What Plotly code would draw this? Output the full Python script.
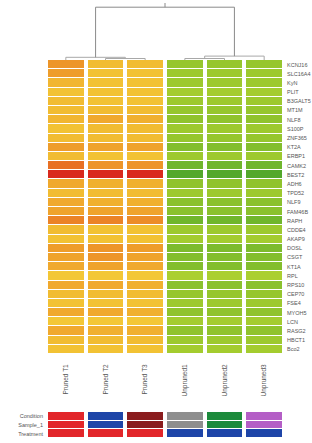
import plotly.graph_objects as go

# ---------------- data ----------------
genes = ["KCNJ16", "SLC16A4", "KyN", "PLIT", "B3GALT5", "MT1M", "NLF8", "S100P",
         "ZNF365", "KT2A", "ERBP1", "CAMK2", "BEST2", "ADH6", "TPD52", "NLF9",
         "FAM46B", "RAPH", "CDDE4", "AKAP9", "DOSL", "CSGT", "KT1A", "RPL",
         "RPS10", "CEP70", "FSE4", "MYOH5", "LCN", "RASG2", "HBCT1", "Bco2"]

samples = ["Pruned T1", "Pruned T2", "Pruned T3", "Unpruned1", "Unpruned2", "Unpruned3"]

s1 = [1.3, 1.2, 0.8, 0.6, 0.7, 0.7, 0.8, 0.6, 0.7, 1.2, 0.7, 1.7, 2.4, 1.0, 0.7, 1.0,
      1.1, 1.5, 0.7, 0.6, 1.2, 1.1, 1.0, 0.5, 1.0, 0.7, 0.6, 1.0, 0.5, 1.0, 0.7, 0.6]
s2 = [0.7, 0.6, 0.6, 0.6, 0.6, 0.7, 1.0, 0.7, 0.7, 1.1, 0.6, 1.3, 2.4, 0.9, 0.7, 0.9,
      1.1, 1.5, 0.6, 0.6, 1.3, 1.3, 1.1, 0.5, 1.0, 0.7, 0.6, 1.0, 0.5, 0.9, 0.7, 0.6]
s3 = [0.7, 0.6, 0.6, 0.6, 0.6, 0.7, 0.9, 0.7, 0.7, 1.1, 0.6, 1.3, 2.4, 0.9, 0.7, 0.9,
      1.1, 1.4, 0.6, 0.6, 1.2, 1.1, 1.0, 0.5, 0.9, 0.7, 0.6, 0.9, 0.5, 0.9, 0.7, 0.6]
s4 = [-0.9, -0.8, -0.8, -0.7, -0.8, -0.9, -1.0, -0.8, -0.9, -1.2, -0.8, -1.5, -2.1, -1.0, -0.8, -1.1,
      -1.1, -1.5, -0.8, -0.7, -1.3, -1.2, -1.2, -0.6, -1.1, -0.9, -0.8, -1.0, -0.7, -1.0, -0.8, -0.7]
s5 = [-0.9, -0.8, -0.8, -0.7, -0.8, -0.9, -1.0, -0.8, -0.9, -1.2, -0.8, -1.5, -2.1, -1.0, -0.8, -1.1,
      -1.1, -1.5, -0.8, -0.7, -1.3, -1.2, -1.2, -0.6, -1.1, -0.9, -0.8, -1.0, -0.7, -1.0, -0.8, -0.7]
s6 = [-0.9, -0.8, -0.8, -0.7, -0.8, -0.9, -1.0, -0.8, -0.9, -1.2, -0.8, -1.5, -2.1, -1.0, -0.8, -1.1,
      -1.1, -1.5, -0.8, -0.7, -1.3, -1.2, -1.2, -0.6, -1.1, -0.9, -0.8, -1.0, -0.7, -1.0, -0.8, -0.7]

annot_labels = ["Condition", "Sample_1", "Treatment"]
annot_palette = ["#e2262a", "#1e45a8", "#8a1c1e", "#8e8e8e", "#1c8a3c", "#b45ec6"]
condition_codes = [0, 1, 2, 3, 4, 5]
sample_codes = [0, 1, 2, 3, 4, 5]
treatment_codes = [0, 0, 0, 1, 1, 1]

# dendrogram: (left child, right child, height); children are leaf indices or "m<k>"
dend_merges = [(1, 2, 0.25), (0, "m0", 0.45), (3, 4, 0.25), ("m2", 5, 0.65), ("m1", "m3", 8.8)]
dend_stem_top = 9.5

# ---------------- figure ----------------
W, H = 312, 443
def px_x(p): return p / W
def px_y(p): return 1 - p / H

heat_colorscale = [
    [0.00, "#3f9e2a"], [0.20, "#70b62c"], [0.35, "#a0ca2e"], [0.45, "#c6da36"],
    [0.55, "#f6d43a"], [0.62, "#f2c234"], [0.75, "#ee9a2a"], [0.88, "#e65e22"],
    [1.00, "#d61e1c"]]

cols = [s1, s2, s3, s4, s5, s6]
z = [[cols[c][r] for c in range(6)] for r in range(len(genes))]
xi = list(range(len(samples)))
yi = list(range(len(genes)))

fig = go.Figure()
fig.add_trace(go.Heatmap(z=z, x=xi, y=yi, colorscale=heat_colorscale, zmin=-2.5, zmax=2.5,
                         xgap=4, ygap=1, showscale=False, hoverinfo="skip",
                         xaxis="x", yaxis="y"))

# annotation bars
n = len(annot_palette)
annot_cs = []
for i, c in enumerate(annot_palette):
    annot_cs.append([i / n, c])
    annot_cs.append([(i + 1) / n, c])
az = [condition_codes, sample_codes, treatment_codes]
fig.add_trace(go.Heatmap(z=az, x=xi, y=[0, 1, 2], colorscale=annot_cs, zmin=-0.5, zmax=n - 0.5,
                         xgap=4, ygap=1, showscale=False, hoverinfo="skip",
                         xaxis="x3", yaxis="y3"))

# dendrogram
pos = {}
hts = {}
for i in xi:
    pos[i] = i
    hts[i] = 0
for k, (a, b, h) in enumerate(dend_merges):
    xa, xb = pos[a], pos[b]
    fig.add_trace(go.Scatter(x=[xa, xa, xb, xb], y=[hts[a], h, h, hts[b]], mode="lines",
                             line=dict(color="#8a8a8a" if h > 1 else "#a8a8a8", width=1),
                             hoverinfo="skip", showlegend=False, xaxis="x2", yaxis="y2"))
    pos["m%d" % k] = (xa + xb) / 2
    hts["m%d" % k] = h
root = "m%d" % (len(dend_merges) - 1)
fig.add_trace(go.Scatter(x=[pos[root], pos[root]], y=[hts[root], dend_stem_top], mode="lines",
                         line=dict(color="#8a8a8a", width=1), hoverinfo="skip",
                         showlegend=False, xaxis="x2", yaxis="y2"))

xdom = [px_x(46), px_x(284)]
FF = "Liberation Sans, Arial, sans-serif"
font_small = dict(family=FF, size=5.5, color="#555555")

fig.update_layout(
    width=W, height=H, margin=dict(l=0, r=0, t=0, b=0),
    paper_bgcolor="white", plot_bgcolor="white", showlegend=False,
    xaxis=dict(domain=xdom, range=[-0.5, 5.5], anchor="y", tickmode="array", tickvals=xi,
               ticktext=samples, tickangle=-90, tickfont=dict(family=FF, size=6.5, color="#555555"),
               showgrid=False, zeroline=False, showline=False, ticks="", ticklabelstandoff=8),
    yaxis=dict(domain=[px_y(354), px_y(60)], range=[len(genes) - 0.5, -0.5], anchor="x",
               side="right", tickmode="array", tickvals=yi, ticktext=genes, tickfont=font_small,
               showgrid=False, zeroline=False, showline=False, ticks="", ticklabelstandoff=2),
    xaxis2=dict(domain=xdom, range=[-0.5, 5.5], anchor="y2", visible=False),
    yaxis2=dict(domain=[px_y(60), 1.0], range=[0, 10], anchor="x2", visible=False),
    xaxis3=dict(domain=xdom, range=[-0.5, 5.5], anchor="y3", visible=False),
    yaxis3=dict(domain=[px_y(438), px_y(412)], range=[2.5, -0.5], anchor="x3", side="left",
                tickmode="array", tickvals=[0, 1, 2], ticktext=annot_labels, tickfont=font_small,
                showgrid=False, zeroline=False, showline=False, ticks="", ticklabelstandoff=2),
)

# thin left border stub of the row dendrogram
fig.add_shape(type="line", xref="x", yref="y", x0=-0.54, x1=-0.54, y0=0.0, y1=len(genes) - 0.5,
              line=dict(color="#666666", width=1.5))

fig.write_html("out.html", config={"displayModeBar": False},
               post_script="document.body.style.margin='0';document.body.style.padding='0';")
